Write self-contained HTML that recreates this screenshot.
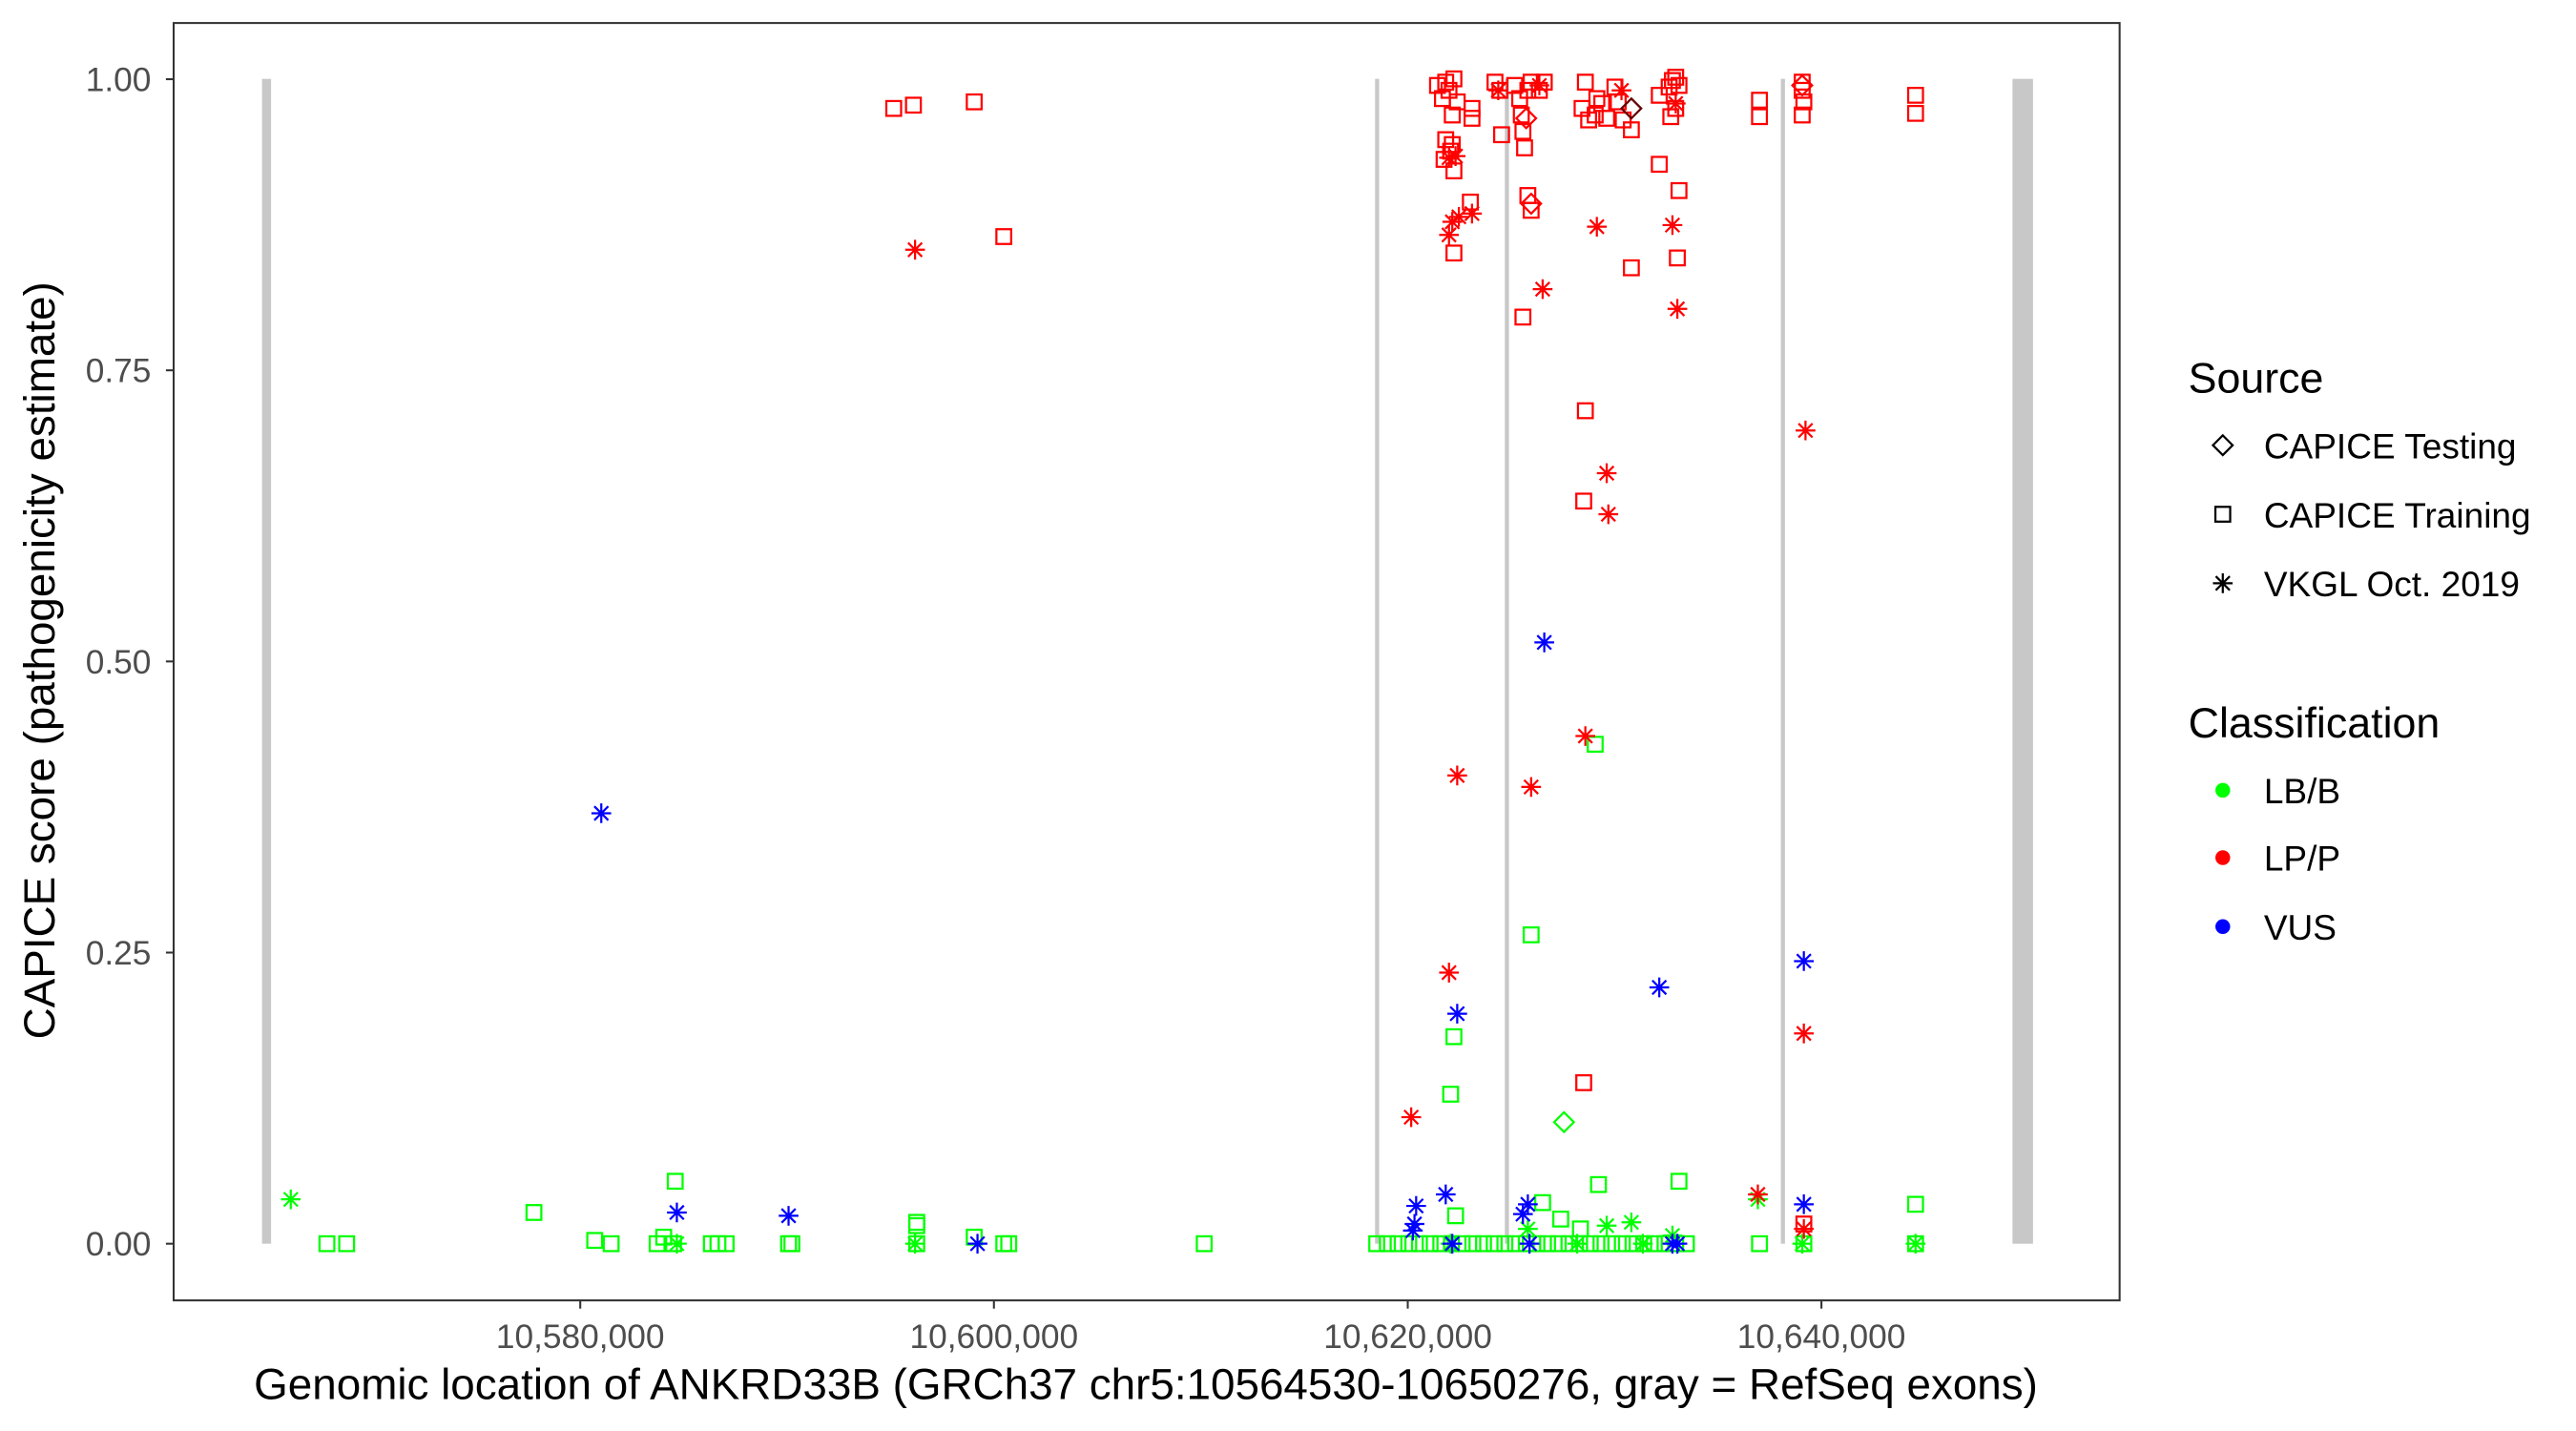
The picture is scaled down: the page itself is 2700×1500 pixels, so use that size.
<!DOCTYPE html>
<html><head><meta charset="utf-8"><style>html,body{margin:0;padding:0;background:#fff}svg{display:block}text{font-family:"Liberation Sans",Arial,sans-serif}</style></head>
<body>
<svg id="s" width="2700" height="1500" viewBox="0 0 1568 871" preserveAspectRatio="none" xmlns="http://www.w3.org/2000/svg">
<rect x="0" y="0" width="1568" height="871" fill="#fff"/>
<g fill="#c8c8c8">
<rect x="159.5" y="48" width="5.5" height="709"/>
<rect x="837" y="48" width="2.5" height="709"/>
<rect x="916" y="48" width="2.5" height="709"/>
<rect x="1084" y="48" width="2.5" height="709"/>
<rect x="1225" y="48" width="12.5" height="709"/>
</g>
<g id="pts" fill="none" stroke-width="1.3"></g>
<rect x="105.7" y="14" width="1184.5" height="777.5" fill="none" stroke="#333" stroke-width="1.2"/>
<g stroke="#333" stroke-width="1.2">
<line x1="101" x2="105.7" y1="48.2" y2="48.2"/><line x1="101" x2="105.7" y1="225.4" y2="225.4"/><line x1="101" x2="105.7" y1="402.6" y2="402.6"/><line x1="101" x2="105.7" y1="579.8" y2="579.8"/><line x1="101" x2="105.7" y1="757" y2="757"/>
<line x1="353.2" x2="353.2" y1="791.5" y2="796.5"/><line x1="605" x2="605" y1="791.5" y2="796.5"/><line x1="856.9" x2="856.9" y1="791.5" y2="796.5"/><line x1="1108.7" x2="1108.7" y1="791.5" y2="796.5"/>
</g>
<g font-size="20.5" fill="#4d4d4d" text-anchor="end">
<text x="92" y="55.5">1.00</text><text x="92" y="232.7">0.75</text><text x="92" y="409.9">0.50</text><text x="92" y="587.1">0.25</text><text x="92" y="764.3">0.00</text>
</g>
<g font-size="20.5" fill="#4d4d4d" text-anchor="middle">
<text x="353.2" y="820.5">10,580,000</text><text x="605" y="820.5">10,600,000</text><text x="856.9" y="820.5">10,620,000</text><text x="1108.7" y="820.5">10,640,000</text>
</g>
<text x="697.5" y="851.5" font-size="26.6" text-anchor="middle" fill="#000">Genomic location of ANKRD33B (GRCh37 chr5:10564530-10650276, gray = RefSeq exons)</text>
<text transform="translate(33,402) rotate(-90)" font-size="26.6" text-anchor="middle" fill="#000">CAPICE score (pathogenicity estimate)</text>
<text x="1332" y="239" font-size="26" fill="#000">Source</text>
<text x="1378" y="279" font-size="21.5" fill="#000">CAPICE Testing</text>
<text x="1378" y="321" font-size="21.5" fill="#000">CAPICE Training</text>
<text x="1378" y="363" font-size="21.5" fill="#000">VKGL Oct. 2019</text>
<text x="1332" y="449" font-size="26" fill="#000">Classification</text>
<text x="1378" y="489" font-size="21.5" fill="#000">LB/B</text>
<text x="1378" y="530" font-size="21.5" fill="#000">LP/P</text>
<text x="1378" y="572" font-size="21.5" fill="#000">VUS</text>
<circle cx="1353" cy="481" r="4.5" fill="#00ff00"/>
<circle cx="1353" cy="522" r="4.5" fill="#ff0000"/>
<circle cx="1353" cy="564" r="4.5" fill="#0000ff"/>
<g id="leg" fill="none" stroke="#000" stroke-width="1.3"></g>
</svg>
<script>
var R="#ff0000",G="#00ff00",B="#0000ff",K="#000";
function shp(g,x,y,t,c){var s="";
if(t=="q")s='<rect x="'+(x-4.5)+'" y="'+(y-4.5)+'" width="9" height="9" stroke="'+c+'"/>';
else if(t=="d")s='<path d="M'+x+' '+(y-6)+'L'+(x+6)+' '+y+'L'+x+' '+(y+6)+'L'+(x-6)+' '+y+'Z" stroke="'+c+'"/>';
else{var r=6,a=r*0.707;s='<path d="M'+(x-r)+' '+y+'H'+(x+r)+'M'+x+' '+(y-r)+'V'+(y+r)+'M'+(x-a)+' '+(y-a)+'L'+(x+a)+' '+(y+a)+'M'+(x-a)+' '+(y+a)+'L'+(x+a)+' '+(y-a)+'" stroke="'+c+'"/>';}
g.innerHTML+=s;}
var g=document.getElementById("pts");
var rq=[[544,66],[556,64],[593,62],[611,144],[875,52],[878,60],[880,50],[882,55],[885,48],[887,62],[884,70],[880,85],[879,97],[883,92],[885,104],[884,88],[896,66],[896,72],[910,50],[913,55],[914,82],[922,52],[925,60],[926,70],[927,80],[928,90],[930,55],[932,50],[937,55],[940,50],[930,119],[932,128],[895,123],[885,154],[927,193],[965,50],[963,66],[967,73],[972,60],[971,70],[975,63],[978,72],[983,53],[985,62],[988,73],[993,79],[1010,58],[1016,53],[1018,49],[1020,47],[1022,52],[1017,71],[1020,66],[1010,100],[1022,116],[1021,157],[993,163],[965,250],[964,305],[964,659],[1071,61],[1071,71],[1097,50],[1097,55],[1098,62],[1097,70],[1166,58],[1166,69],[1098,745]];
var rs=[[557,152],[987,55],[912,55],[882,96],[886,95],[884,135],[888,132],[896,130],[882,143],[939,176],[972,138],[1018,137],[1021,188],[978,288],[979,313],[1099,262],[965,448],[887,472],[932,479],[882,592],[1098,629],[859,680],[1070,727],[1098,748],[1020,63],[937,52]];
var rd=[[929,72],[932,124],[1097,52]];
var bs=[[366,495],[412,738],[480,740],[595,757],[862,734],[861,745],[860,749],[880,727],[884,757],[887,617],[930,733],[927,739],[931,757],[940,391],[1010,601],[1018,757],[1021,757],[1098,585],[1098,733]];
var gq=[[199,757],[211,757],[325,738],[362,755],[372,757],[400,757],[404,753],[410,757],[433,757],[437,757],[442,757],[480,757],[482,757],[558,746],[558,757],[593,753],[611,757],[614,757],[733,757],[411,719],[558,744],[885,631],[883,666],[932,569],[971,453],[973,721],[1022,719],[939,732],[950,742],[1166,733],[1071,757],[1098,757],[1166,757],[886,740],[962,748]];
for(var x=838;x<=1032;x+=6.5)gq.push([x,757]);
var gs=[[177,730],[412,757],[557,757],[883,757],[930,748],[978,746],[993,744],[1000,757],[1018,752],[1166,757],[1097,757],[1070,730],[960,757]];
gq.forEach(function(p){shp(g,p[0],p[1],"q",G)});
gs.forEach(function(p){shp(g,p[0],p[1],"s",G)});
shp(g,952,683,"d",G);
rq.forEach(function(p){shp(g,p[0],p[1],"q",R)});
rs.forEach(function(p){shp(g,p[0],p[1],"s",R)});
rd.forEach(function(p){shp(g,p[0],p[1],"d",R)});
shp(g,993,66,"d","#660000");
bs.forEach(function(p){shp(g,p[0],p[1],"s",B)});
var l=document.getElementById("leg");
shp(l,1353,271,"d",K);shp(l,1353,313,"q",K);shp(l,1353,355,"s",K);
</script>
</body></html>
